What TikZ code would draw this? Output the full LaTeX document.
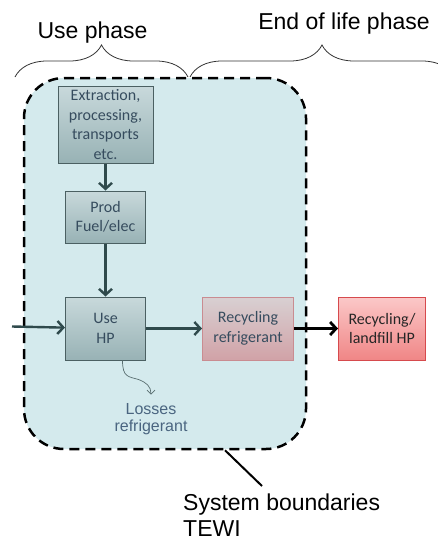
\documentclass[tikz,border=0pt]{standalone}
\usepackage{fontspec}
\setmainfont{Liberation Sans}
\newfontfamily\boxfont{Carlito}
\usetikzlibrary{positioning,arrows.meta,decorations.pathreplacing}
\definecolor{slate}{HTML}{2F4A4C}
\definecolor{boxink}{HTML}{364C5E}
\definecolor{sysfill}{HTML}{D4EAED}
\definecolor{tealtop}{HTML}{C8D9DB}
\definecolor{tealbot}{HTML}{98B2B5}
\definecolor{tealline}{HTML}{4B6062}
\definecolor{rosetop}{HTML}{D8D0D2}
\definecolor{rosebot}{HTML}{D1A2A7}
\definecolor{roseline}{HTML}{C98C91}
\definecolor{redtop}{HTML}{FBC8C8}
\definecolor{redbot}{HTML}{F08686}
\definecolor{redline}{HTML}{D64A4D}
\definecolor{lossink}{HTML}{4A6580}
\tikzset{
  stage/.style={draw=tealline,line width=1pt,top color=tealtop,bottom color=tealbot,
                align=center,inner sep=0pt,text=boxink,
                font=\boxfont\fontsize{16}{19.5}\selectfont},
  recyc/.style={stage,draw=roseline,top color=rosetop,bottom color=rosebot},
  waste/.style={stage,draw=redline,top color=redtop,bottom color=redbot,text=black!85},
  flow/.style={-{Straight Barb[length=6pt,width=13pt]},line width=2.4pt,draw=slate},
  exit/.style={flow,draw=black,line width=2.8pt},
  leak/.style={-{Straight Barb[length=4pt,width=8pt]},line width=0.7pt,draw=slate!80},
  phase/.style={draw=black!80,line width=0.8pt,decorate,decoration={brace,amplitude=32pt}},
  label/.style={inner sep=0pt,font=\fontsize{23}{26}\selectfont},
  bound/.style={draw=black,fill=sysfill,line width=2.5pt,dash pattern=on 10pt off 6pt,
                rounded corners=40pt,minimum width=282pt,minimum height=371pt,inner sep=0pt}
}
\begin{document}
\begin{tikzpicture}[x=1pt,y=-1pt]
  \clip (0,0) rectangle (438,543);
  % system boundary
  \node[bound] (sys) at (165,263.5) {};
  % phases on top
  \draw[phase] (15,77) -- (188,77);
  \draw[phase] (190,77) -- (454,77);
  \node[label,anchor=base] (usep) at (92.5,38) {Use phase};
  \node[label,anchor=base] (endp) at (344,30) {End of life phase};
  % chain of stages
  \node[stage,minimum width=95pt,minimum height=77pt] (ext) at (105.5,124.5)
       {Extraction,\\processing,\\transports\\etc.};
  \node[stage,minimum width=80pt,minimum height=52pt,below=27pt of ext] (prod) {Prod\\Fuel/elec};
  \node[stage,minimum width=80pt,minimum height=63pt,below=53pt of prod] (use) {Use\\HP};
  \node[recyc,minimum width=91pt,minimum height=63pt,right=56pt of use] (recref) {Recycling\\refrigerant};
  \node[waste,minimum width=87pt,minimum height=63pt,right=44pt of recref] (landfill) {Recycling/\\landfill HP};
  \coordinate (feed) at (12,326.5);
  \path (ext) edge[flow] (prod);
  \path (prod) edge[flow] (use);
  \path (feed) edge[flow] (use);
  \path (use) edge[flow] (recref);
  \path (recref) edge[exit] (landfill);
  % refrigerant losses
  \node[inner sep=0pt,align=center,text=lossink,font=\fontsize{16}{17}\selectfont,anchor=north]
       (loss) at (151,403.5) {Losses\\refrigerant};
  \draw[leak] ([xshift=17pt]use.south) .. controls +(0,17) and +(-10,-3) .. ++(16,19)
       .. controls +(8,3) and +(0,-8) .. ([yshift=9pt]loss.north);
  % boundary callout
  \coordinate (tag) at (262,486);
  \draw[line width=2pt] ([xshift=60pt]sys.south) -- (tag);
  \node[label,align=left,anchor=north west] (tewi) at (183,494) {System boundaries\\TEWI};
\end{tikzpicture}
\end{document}
